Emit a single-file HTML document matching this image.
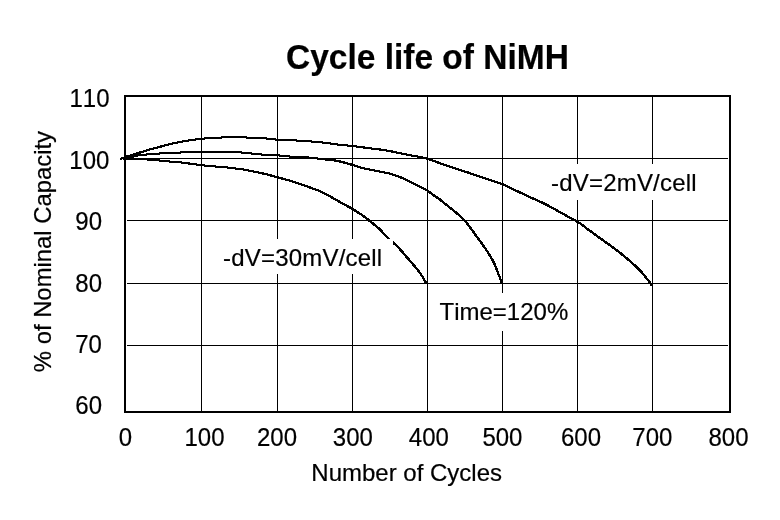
<!DOCTYPE html>
<html><head><meta charset="utf-8"><title>Cycle life of NiMH</title>
<style>
html,body{margin:0;padding:0;background:#fff;}
svg{display:block;font-family:"Liberation Sans",Arial,sans-serif;font-size:24px;fill:#000;font-kerning:none;}
text{stroke:#000;stroke-width:0.2px;}
.c{fill:none;stroke:#000;stroke-width:1;stroke-linejoin:round;stroke-linecap:butt;}
</style></head><body>
<svg width="780" height="520" viewBox="0 0 780 520">
<rect width="780" height="520" fill="#fff"/>
<g shape-rendering="crispEdges"><rect x="201" y="97" width="1" height="314"/><rect x="277" y="97" width="1" height="314"/><rect x="352" y="97" width="1" height="314"/><rect x="427" y="97" width="1" height="314"/><rect x="502" y="97" width="1" height="314"/><rect x="577" y="97" width="1" height="314"/><rect x="652" y="97" width="1" height="314"/><rect x="127" y="158" width="601" height="1"/><rect x="127" y="220" width="601" height="1"/><rect x="127" y="283" width="601" height="1"/><rect x="127" y="345" width="601" height="1"/></g>
<g class="c" shape-rendering="crispEdges">
<g transform="translate(-0.5,-0.5)"><polyline points="120.3,159.20 122.3,158.30 124.3,157.46 126.3,156.74 128.3,156.09 130.3,155.49 132.3,154.90 134.3,154.32 136.3,153.71 138.3,153.07 140.3,152.42 142.3,151.77 144.3,151.13 146.3,150.51 148.3,149.91 150.3,149.35 152.3,148.82 154.3,148.29 156.3,147.77 158.3,147.25 160.3,146.72 162.3,146.16 164.3,145.59 166.3,145.02 168.3,144.47 170.3,143.96 172.3,143.51 174.3,143.09 176.3,142.69 178.3,142.31 180.3,141.95 182.3,141.58 184.3,141.23 186.3,140.88 188.3,140.55 190.3,140.23 192.3,139.93 194.3,139.66 196.3,139.41 198.3,139.19 200.3,138.97 202.3,138.76 204.3,138.54 206.3,138.34 208.3,138.14 210.3,137.98 212.3,137.81 214.3,137.67 216.3,137.59 218.3,137.55 220.3,137.52 222.3,137.49 224.3,137.46 226.3,137.44 228.3,137.43 230.3,137.41 232.3,137.40 234.3,137.40 236.3,137.40 238.3,137.41 240.3,137.43 242.3,137.45 244.3,137.48 246.3,137.51 248.3,137.55 250.3,137.59 252.3,137.64 254.3,137.69 256.3,137.75 258.3,137.81 260.3,137.91 262.3,138.07 264.3,138.26 266.3,138.49 268.3,138.72 270.3,138.96 272.3,139.19 274.3,139.39 276.3,139.55 278.3,139.67 280.3,139.78 282.3,139.87 284.3,139.95 286.3,140.02 288.3,140.10 290.3,140.18 292.3,140.27 294.3,140.36 296.3,140.47 298.3,140.59 300.3,140.70 302.3,140.83 304.3,140.96 306.3,141.09 308.3,141.23 310.3,141.38 312.3,141.54 314.3,141.70 316.3,141.87 318.3,142.04 320.3,142.23 322.3,142.44 324.3,142.68 326.3,142.94 328.3,143.21 330.3,143.50 332.3,143.79 334.3,144.07 336.3,144.34 338.3,144.60 340.3,144.83 342.3,145.04 344.3,145.24 346.3,145.43 348.3,145.62 350.3,145.82 352.3,146.03 354.3,146.27 356.3,146.51 358.3,146.76 360.3,147.02 362.3,147.29 364.3,147.55 366.3,147.82 368.3,148.08 370.3,148.34 372.3,148.58 374.3,148.82 376.3,149.06 378.3,149.29 380.3,149.54 382.3,149.81 384.3,150.09 386.3,150.41 388.3,150.77 390.3,151.16 392.3,151.58 394.3,152.01 396.3,152.44 398.3,152.86 400.3,153.26 402.3,153.65 404.3,154.03 406.3,154.41 408.3,154.79 410.3,155.18 412.3,155.57 414.3,155.96 416.3,156.36 418.3,156.74 420.3,157.12 422.3,157.52 424.3,157.95 426.3,158.42 428.3,158.96 430.3,159.60 432.3,160.31 434.3,161.06 436.3,161.82 438.3,162.58 440.3,163.31 442.3,164.01 444.3,164.72 446.3,165.43 448.3,166.12 450.3,166.80 452.3,167.45 454.3,168.09 456.3,168.72 458.3,169.35 460.3,170.00 462.3,170.65 464.3,171.31 466.3,171.97 468.3,172.63 470.3,173.30 472.3,173.98 474.3,174.65 476.3,175.34 478.3,176.02 480.3,176.70 482.3,177.38 484.3,178.07 486.3,178.75 488.3,179.43 490.3,180.10 492.3,180.75 494.3,181.38 496.3,182.01 498.3,182.67 500.3,183.36 502.3,184.12 504.3,184.98 506.3,185.91 508.3,186.88 510.3,187.84 512.3,188.79 514.3,189.76 516.3,190.72 518.3,191.69 520.3,192.64 522.3,193.59 524.3,194.54 526.3,195.49 528.3,196.42 530.3,197.34 532.3,198.22 534.3,199.08 536.3,199.94 538.3,200.82 540.3,201.74 542.3,202.69 544.3,203.68 546.3,204.68 548.3,205.71 550.3,206.76 552.3,207.85 554.3,208.97 556.3,210.11 558.3,211.25 560.3,212.37 562.3,213.48 564.3,214.58 566.3,215.69 568.3,216.78 570.3,217.86 572.3,218.89 574.3,219.90 576.3,220.99 578.3,222.22 580.3,223.58 582.3,225.04 584.3,226.57 586.3,228.11 588.3,229.64 590.3,231.12 592.3,232.56 594.3,234.00 596.3,235.44 598.3,236.88 600.3,238.32 602.3,239.75 604.3,241.18 606.3,242.61 608.3,244.06 610.3,245.52 612.3,246.99 614.3,248.46 616.3,249.95 618.3,251.47 620.3,253.04 622.3,254.65 624.3,256.30 626.3,257.99 628.3,259.71 630.3,261.46 632.3,263.23 634.3,265.01 636.3,266.85 638.3,268.77 640.3,270.82 642.3,273.05 644.3,275.44 646.3,277.93 648.3,280.54 650.3,283.20 652.0,285.50"/><polyline points="123.0,158.40 125.0,158.08 127.0,157.74 129.0,157.38 131.0,157.00 133.0,156.57 135.0,156.10 137.0,155.65 139.0,155.30 141.0,155.05 143.0,154.84 145.0,154.66 147.0,154.49 149.0,154.31 151.0,154.15 153.0,153.99 155.0,153.84 157.0,153.70 159.0,153.56 161.0,153.44 163.0,153.32 165.0,153.20 167.0,153.09 169.0,152.99 171.0,152.90 173.0,152.81 175.0,152.73 177.0,152.65 179.0,152.57 181.0,152.49 183.0,152.41 185.0,152.35 187.0,152.28 189.0,152.22 191.0,152.17 193.0,152.12 195.0,152.08 197.0,152.04 199.0,152.00 201.0,151.96 203.0,151.92 205.0,151.89 207.0,151.86 209.0,151.83 211.0,151.82 213.0,151.80 215.0,151.80 217.0,151.80 219.0,151.82 221.0,151.83 223.0,151.86 225.0,151.89 227.0,151.93 229.0,151.98 231.0,152.03 233.0,152.08 235.0,152.14 237.0,152.20 239.0,152.30 241.0,152.45 243.0,152.64 245.0,152.85 247.0,153.08 249.0,153.30 251.0,153.50 253.0,153.69 255.0,153.90 257.0,154.11 259.0,154.31 261.0,154.50 263.0,154.67 265.0,154.80 267.0,154.90 269.0,154.98 271.0,155.05 273.0,155.12 275.0,155.20 277.0,155.30 279.0,155.44 281.0,155.61 283.0,155.81 285.0,156.00 287.0,156.20 289.0,156.43 291.0,156.65 293.0,156.85 295.0,157.00 297.0,157.10 299.0,157.18 301.0,157.25 303.0,157.31 305.0,157.37 307.0,157.44 309.0,157.54 311.0,157.68 313.0,157.90 315.0,158.18 317.0,158.49 319.0,158.77 321.0,159.01 323.0,159.22 325.0,159.41 327.0,159.60 329.0,159.79 331.0,160.00 333.0,160.23 335.0,160.50 337.0,160.85 339.0,161.27 341.0,161.73 343.0,162.23 345.0,162.77 347.0,163.33 349.0,163.92 351.0,164.51 353.0,165.10 355.0,165.75 357.0,166.40 359.0,167.02 361.0,167.56 363.0,168.05 365.0,168.52 367.0,168.96 369.0,169.39 371.0,169.81 373.0,170.22 375.0,170.61 377.0,171.00 379.0,171.40 381.0,171.80 383.0,172.19 385.0,172.58 387.0,172.99 389.0,173.45 391.0,173.97 393.0,174.57 395.0,175.24 397.0,175.95 399.0,176.71 401.0,177.50 403.0,178.37 405.0,179.29 407.0,180.25 409.0,181.22 411.0,182.18 413.0,183.16 415.0,184.16 417.0,185.17 419.0,186.19 421.0,187.21 423.0,188.21 425.0,189.25 427.0,190.40 429.0,191.73 431.0,193.21 433.0,194.73 435.0,196.20 437.0,197.54 439.0,198.88 441.0,200.37 443.0,202.03 445.0,203.70 447.0,205.31 449.0,206.90 451.0,208.50 453.0,210.08 455.0,211.70 457.0,213.37 459.0,215.09 461.0,216.93 463.0,218.88 465.0,221.00 467.0,223.39 469.0,225.98 471.0,228.64 473.0,231.41 475.0,234.20 477.0,236.96 479.0,239.72 481.0,242.47 483.0,245.18 485.0,248.00 487.0,250.99 489.0,254.14 491.0,257.48 493.0,260.98 495.0,265.00 497.0,270.27 499.0,275.49 501.0,280.69 502.0,283.50"/><polyline points="123.0,158.50 125.0,158.53 127.0,158.56 129.0,158.61 131.0,158.67 133.0,158.73 135.0,158.82 137.0,158.92 139.0,159.03 141.0,159.14 143.0,159.26 145.0,159.37 147.0,159.49 149.0,159.62 151.0,159.76 153.0,159.90 155.0,160.06 157.0,160.23 159.0,160.42 161.0,160.61 163.0,160.80 165.0,161.00 167.0,161.20 169.0,161.41 171.0,161.61 173.0,161.80 175.0,161.97 177.0,162.13 179.0,162.30 181.0,162.50 183.0,162.73 185.0,162.97 187.0,163.24 189.0,163.51 191.0,163.79 193.0,164.07 195.0,164.35 197.0,164.61 199.0,164.87 201.0,165.10 203.0,165.32 205.0,165.53 207.0,165.73 209.0,165.93 211.0,166.12 213.0,166.30 215.0,166.47 217.0,166.63 219.0,166.79 221.0,166.95 223.0,167.12 225.0,167.30 227.0,167.50 229.0,167.71 231.0,167.93 233.0,168.16 235.0,168.40 237.0,168.66 239.0,168.92 241.0,169.20 243.0,169.50 245.0,169.82 247.0,170.18 249.0,170.56 251.0,170.96 253.0,171.37 255.0,171.79 257.0,172.21 259.0,172.63 261.0,173.07 263.0,173.51 265.0,173.97 267.0,174.45 269.0,174.96 271.0,175.50 273.0,176.07 275.0,176.64 277.0,177.20 279.0,177.74 281.0,178.26 283.0,178.78 285.0,179.30 287.0,179.84 289.0,180.41 291.0,181.00 293.0,181.64 295.0,182.30 297.0,182.98 299.0,183.66 301.0,184.34 303.0,185.03 305.0,185.72 307.0,186.43 309.0,187.14 311.0,187.86 313.0,188.56 315.0,189.26 317.0,189.99 319.0,190.78 321.0,191.65 323.0,192.62 325.0,193.66 327.0,194.75 329.0,195.85 331.0,196.95 333.0,198.08 335.0,199.23 337.0,200.39 339.0,201.54 341.0,202.66 343.0,203.75 345.0,204.82 347.0,205.90 349.0,206.99 351.0,208.12 353.0,209.29 355.0,210.51 357.0,211.77 359.0,213.05 361.0,214.35 363.0,215.68 365.0,217.10 367.0,218.69 369.0,220.37 371.0,222.00 373.0,223.58 375.0,225.20 377.0,226.85 379.0,228.57 381.0,230.53 383.0,232.79 385.0,235.00 387.0,236.99 389.0,238.88 391.0,240.67 393.0,242.40 395.0,244.26 397.0,246.21 399.0,248.24 401.0,250.40 403.0,252.74 405.0,255.10 407.0,257.38 409.0,259.66 411.0,261.94 413.0,264.23 415.0,266.60 417.0,269.05 419.0,271.63 421.0,274.46 423.0,277.60 425.0,281.00 426.0,283.00"/></g>
<g transform="translate(0.5,-0.5)"><polyline points="120.3,159.20 122.3,158.30 124.3,157.46 126.3,156.74 128.3,156.09 130.3,155.49 132.3,154.90 134.3,154.32 136.3,153.71 138.3,153.07 140.3,152.42 142.3,151.77 144.3,151.13 146.3,150.51 148.3,149.91 150.3,149.35 152.3,148.82 154.3,148.29 156.3,147.77 158.3,147.25 160.3,146.72 162.3,146.16 164.3,145.59 166.3,145.02 168.3,144.47 170.3,143.96 172.3,143.51 174.3,143.09 176.3,142.69 178.3,142.31 180.3,141.95 182.3,141.58 184.3,141.23 186.3,140.88 188.3,140.55 190.3,140.23 192.3,139.93 194.3,139.66 196.3,139.41 198.3,139.19 200.3,138.97 202.3,138.76 204.3,138.54 206.3,138.34 208.3,138.14 210.3,137.98 212.3,137.81 214.3,137.67 216.3,137.59 218.3,137.55 220.3,137.52 222.3,137.49 224.3,137.46 226.3,137.44 228.3,137.43 230.3,137.41 232.3,137.40 234.3,137.40 236.3,137.40 238.3,137.41 240.3,137.43 242.3,137.45 244.3,137.48 246.3,137.51 248.3,137.55 250.3,137.59 252.3,137.64 254.3,137.69 256.3,137.75 258.3,137.81 260.3,137.91 262.3,138.07 264.3,138.26 266.3,138.49 268.3,138.72 270.3,138.96 272.3,139.19 274.3,139.39 276.3,139.55 278.3,139.67 280.3,139.78 282.3,139.87 284.3,139.95 286.3,140.02 288.3,140.10 290.3,140.18 292.3,140.27 294.3,140.36 296.3,140.47 298.3,140.59 300.3,140.70 302.3,140.83 304.3,140.96 306.3,141.09 308.3,141.23 310.3,141.38 312.3,141.54 314.3,141.70 316.3,141.87 318.3,142.04 320.3,142.23 322.3,142.44 324.3,142.68 326.3,142.94 328.3,143.21 330.3,143.50 332.3,143.79 334.3,144.07 336.3,144.34 338.3,144.60 340.3,144.83 342.3,145.04 344.3,145.24 346.3,145.43 348.3,145.62 350.3,145.82 352.3,146.03 354.3,146.27 356.3,146.51 358.3,146.76 360.3,147.02 362.3,147.29 364.3,147.55 366.3,147.82 368.3,148.08 370.3,148.34 372.3,148.58 374.3,148.82 376.3,149.06 378.3,149.29 380.3,149.54 382.3,149.81 384.3,150.09 386.3,150.41 388.3,150.77 390.3,151.16 392.3,151.58 394.3,152.01 396.3,152.44 398.3,152.86 400.3,153.26 402.3,153.65 404.3,154.03 406.3,154.41 408.3,154.79 410.3,155.18 412.3,155.57 414.3,155.96 416.3,156.36 418.3,156.74 420.3,157.12 422.3,157.52 424.3,157.95 426.3,158.42 428.3,158.96 430.3,159.60 432.3,160.31 434.3,161.06 436.3,161.82 438.3,162.58 440.3,163.31 442.3,164.01 444.3,164.72 446.3,165.43 448.3,166.12 450.3,166.80 452.3,167.45 454.3,168.09 456.3,168.72 458.3,169.35 460.3,170.00 462.3,170.65 464.3,171.31 466.3,171.97 468.3,172.63 470.3,173.30 472.3,173.98 474.3,174.65 476.3,175.34 478.3,176.02 480.3,176.70 482.3,177.38 484.3,178.07 486.3,178.75 488.3,179.43 490.3,180.10 492.3,180.75 494.3,181.38 496.3,182.01 498.3,182.67 500.3,183.36 502.3,184.12 504.3,184.98 506.3,185.91 508.3,186.88 510.3,187.84 512.3,188.79 514.3,189.76 516.3,190.72 518.3,191.69 520.3,192.64 522.3,193.59 524.3,194.54 526.3,195.49 528.3,196.42 530.3,197.34 532.3,198.22 534.3,199.08 536.3,199.94 538.3,200.82 540.3,201.74 542.3,202.69 544.3,203.68 546.3,204.68 548.3,205.71 550.3,206.76 552.3,207.85 554.3,208.97 556.3,210.11 558.3,211.25 560.3,212.37 562.3,213.48 564.3,214.58 566.3,215.69 568.3,216.78 570.3,217.86 572.3,218.89 574.3,219.90 576.3,220.99 578.3,222.22 580.3,223.58 582.3,225.04 584.3,226.57 586.3,228.11 588.3,229.64 590.3,231.12 592.3,232.56 594.3,234.00 596.3,235.44 598.3,236.88 600.3,238.32 602.3,239.75 604.3,241.18 606.3,242.61 608.3,244.06 610.3,245.52 612.3,246.99 614.3,248.46 616.3,249.95 618.3,251.47 620.3,253.04 622.3,254.65 624.3,256.30 626.3,257.99 628.3,259.71 630.3,261.46 632.3,263.23 634.3,265.01 636.3,266.85 638.3,268.77 640.3,270.82 642.3,273.05 644.3,275.44 646.3,277.93 648.3,280.54 650.3,283.20 652.0,285.50"/><polyline points="123.0,158.40 125.0,158.08 127.0,157.74 129.0,157.38 131.0,157.00 133.0,156.57 135.0,156.10 137.0,155.65 139.0,155.30 141.0,155.05 143.0,154.84 145.0,154.66 147.0,154.49 149.0,154.31 151.0,154.15 153.0,153.99 155.0,153.84 157.0,153.70 159.0,153.56 161.0,153.44 163.0,153.32 165.0,153.20 167.0,153.09 169.0,152.99 171.0,152.90 173.0,152.81 175.0,152.73 177.0,152.65 179.0,152.57 181.0,152.49 183.0,152.41 185.0,152.35 187.0,152.28 189.0,152.22 191.0,152.17 193.0,152.12 195.0,152.08 197.0,152.04 199.0,152.00 201.0,151.96 203.0,151.92 205.0,151.89 207.0,151.86 209.0,151.83 211.0,151.82 213.0,151.80 215.0,151.80 217.0,151.80 219.0,151.82 221.0,151.83 223.0,151.86 225.0,151.89 227.0,151.93 229.0,151.98 231.0,152.03 233.0,152.08 235.0,152.14 237.0,152.20 239.0,152.30 241.0,152.45 243.0,152.64 245.0,152.85 247.0,153.08 249.0,153.30 251.0,153.50 253.0,153.69 255.0,153.90 257.0,154.11 259.0,154.31 261.0,154.50 263.0,154.67 265.0,154.80 267.0,154.90 269.0,154.98 271.0,155.05 273.0,155.12 275.0,155.20 277.0,155.30 279.0,155.44 281.0,155.61 283.0,155.81 285.0,156.00 287.0,156.20 289.0,156.43 291.0,156.65 293.0,156.85 295.0,157.00 297.0,157.10 299.0,157.18 301.0,157.25 303.0,157.31 305.0,157.37 307.0,157.44 309.0,157.54 311.0,157.68 313.0,157.90 315.0,158.18 317.0,158.49 319.0,158.77 321.0,159.01 323.0,159.22 325.0,159.41 327.0,159.60 329.0,159.79 331.0,160.00 333.0,160.23 335.0,160.50 337.0,160.85 339.0,161.27 341.0,161.73 343.0,162.23 345.0,162.77 347.0,163.33 349.0,163.92 351.0,164.51 353.0,165.10 355.0,165.75 357.0,166.40 359.0,167.02 361.0,167.56 363.0,168.05 365.0,168.52 367.0,168.96 369.0,169.39 371.0,169.81 373.0,170.22 375.0,170.61 377.0,171.00 379.0,171.40 381.0,171.80 383.0,172.19 385.0,172.58 387.0,172.99 389.0,173.45 391.0,173.97 393.0,174.57 395.0,175.24 397.0,175.95 399.0,176.71 401.0,177.50 403.0,178.37 405.0,179.29 407.0,180.25 409.0,181.22 411.0,182.18 413.0,183.16 415.0,184.16 417.0,185.17 419.0,186.19 421.0,187.21 423.0,188.21 425.0,189.25 427.0,190.40 429.0,191.73 431.0,193.21 433.0,194.73 435.0,196.20 437.0,197.54 439.0,198.88 441.0,200.37 443.0,202.03 445.0,203.70 447.0,205.31 449.0,206.90 451.0,208.50 453.0,210.08 455.0,211.70 457.0,213.37 459.0,215.09 461.0,216.93 463.0,218.88 465.0,221.00 467.0,223.39 469.0,225.98 471.0,228.64 473.0,231.41 475.0,234.20 477.0,236.96 479.0,239.72 481.0,242.47 483.0,245.18 485.0,248.00 487.0,250.99 489.0,254.14 491.0,257.48 493.0,260.98 495.0,265.00 497.0,270.27 499.0,275.49 501.0,280.69 502.0,283.50"/><polyline points="123.0,158.50 125.0,158.53 127.0,158.56 129.0,158.61 131.0,158.67 133.0,158.73 135.0,158.82 137.0,158.92 139.0,159.03 141.0,159.14 143.0,159.26 145.0,159.37 147.0,159.49 149.0,159.62 151.0,159.76 153.0,159.90 155.0,160.06 157.0,160.23 159.0,160.42 161.0,160.61 163.0,160.80 165.0,161.00 167.0,161.20 169.0,161.41 171.0,161.61 173.0,161.80 175.0,161.97 177.0,162.13 179.0,162.30 181.0,162.50 183.0,162.73 185.0,162.97 187.0,163.24 189.0,163.51 191.0,163.79 193.0,164.07 195.0,164.35 197.0,164.61 199.0,164.87 201.0,165.10 203.0,165.32 205.0,165.53 207.0,165.73 209.0,165.93 211.0,166.12 213.0,166.30 215.0,166.47 217.0,166.63 219.0,166.79 221.0,166.95 223.0,167.12 225.0,167.30 227.0,167.50 229.0,167.71 231.0,167.93 233.0,168.16 235.0,168.40 237.0,168.66 239.0,168.92 241.0,169.20 243.0,169.50 245.0,169.82 247.0,170.18 249.0,170.56 251.0,170.96 253.0,171.37 255.0,171.79 257.0,172.21 259.0,172.63 261.0,173.07 263.0,173.51 265.0,173.97 267.0,174.45 269.0,174.96 271.0,175.50 273.0,176.07 275.0,176.64 277.0,177.20 279.0,177.74 281.0,178.26 283.0,178.78 285.0,179.30 287.0,179.84 289.0,180.41 291.0,181.00 293.0,181.64 295.0,182.30 297.0,182.98 299.0,183.66 301.0,184.34 303.0,185.03 305.0,185.72 307.0,186.43 309.0,187.14 311.0,187.86 313.0,188.56 315.0,189.26 317.0,189.99 319.0,190.78 321.0,191.65 323.0,192.62 325.0,193.66 327.0,194.75 329.0,195.85 331.0,196.95 333.0,198.08 335.0,199.23 337.0,200.39 339.0,201.54 341.0,202.66 343.0,203.75 345.0,204.82 347.0,205.90 349.0,206.99 351.0,208.12 353.0,209.29 355.0,210.51 357.0,211.77 359.0,213.05 361.0,214.35 363.0,215.68 365.0,217.10 367.0,218.69 369.0,220.37 371.0,222.00 373.0,223.58 375.0,225.20 377.0,226.85 379.0,228.57 381.0,230.53 383.0,232.79 385.0,235.00 387.0,236.99 389.0,238.88 391.0,240.67 393.0,242.40 395.0,244.26 397.0,246.21 399.0,248.24 401.0,250.40 403.0,252.74 405.0,255.10 407.0,257.38 409.0,259.66 411.0,261.94 413.0,264.23 415.0,266.60 417.0,269.05 419.0,271.63 421.0,274.46 423.0,277.60 425.0,281.00 426.0,283.00"/></g>
<g transform="translate(-0.5,0.5)"><polyline points="120.3,159.20 122.3,158.30 124.3,157.46 126.3,156.74 128.3,156.09 130.3,155.49 132.3,154.90 134.3,154.32 136.3,153.71 138.3,153.07 140.3,152.42 142.3,151.77 144.3,151.13 146.3,150.51 148.3,149.91 150.3,149.35 152.3,148.82 154.3,148.29 156.3,147.77 158.3,147.25 160.3,146.72 162.3,146.16 164.3,145.59 166.3,145.02 168.3,144.47 170.3,143.96 172.3,143.51 174.3,143.09 176.3,142.69 178.3,142.31 180.3,141.95 182.3,141.58 184.3,141.23 186.3,140.88 188.3,140.55 190.3,140.23 192.3,139.93 194.3,139.66 196.3,139.41 198.3,139.19 200.3,138.97 202.3,138.76 204.3,138.54 206.3,138.34 208.3,138.14 210.3,137.98 212.3,137.81 214.3,137.67 216.3,137.59 218.3,137.55 220.3,137.52 222.3,137.49 224.3,137.46 226.3,137.44 228.3,137.43 230.3,137.41 232.3,137.40 234.3,137.40 236.3,137.40 238.3,137.41 240.3,137.43 242.3,137.45 244.3,137.48 246.3,137.51 248.3,137.55 250.3,137.59 252.3,137.64 254.3,137.69 256.3,137.75 258.3,137.81 260.3,137.91 262.3,138.07 264.3,138.26 266.3,138.49 268.3,138.72 270.3,138.96 272.3,139.19 274.3,139.39 276.3,139.55 278.3,139.67 280.3,139.78 282.3,139.87 284.3,139.95 286.3,140.02 288.3,140.10 290.3,140.18 292.3,140.27 294.3,140.36 296.3,140.47 298.3,140.59 300.3,140.70 302.3,140.83 304.3,140.96 306.3,141.09 308.3,141.23 310.3,141.38 312.3,141.54 314.3,141.70 316.3,141.87 318.3,142.04 320.3,142.23 322.3,142.44 324.3,142.68 326.3,142.94 328.3,143.21 330.3,143.50 332.3,143.79 334.3,144.07 336.3,144.34 338.3,144.60 340.3,144.83 342.3,145.04 344.3,145.24 346.3,145.43 348.3,145.62 350.3,145.82 352.3,146.03 354.3,146.27 356.3,146.51 358.3,146.76 360.3,147.02 362.3,147.29 364.3,147.55 366.3,147.82 368.3,148.08 370.3,148.34 372.3,148.58 374.3,148.82 376.3,149.06 378.3,149.29 380.3,149.54 382.3,149.81 384.3,150.09 386.3,150.41 388.3,150.77 390.3,151.16 392.3,151.58 394.3,152.01 396.3,152.44 398.3,152.86 400.3,153.26 402.3,153.65 404.3,154.03 406.3,154.41 408.3,154.79 410.3,155.18 412.3,155.57 414.3,155.96 416.3,156.36 418.3,156.74 420.3,157.12 422.3,157.52 424.3,157.95 426.3,158.42 428.3,158.96 430.3,159.60 432.3,160.31 434.3,161.06 436.3,161.82 438.3,162.58 440.3,163.31 442.3,164.01 444.3,164.72 446.3,165.43 448.3,166.12 450.3,166.80 452.3,167.45 454.3,168.09 456.3,168.72 458.3,169.35 460.3,170.00 462.3,170.65 464.3,171.31 466.3,171.97 468.3,172.63 470.3,173.30 472.3,173.98 474.3,174.65 476.3,175.34 478.3,176.02 480.3,176.70 482.3,177.38 484.3,178.07 486.3,178.75 488.3,179.43 490.3,180.10 492.3,180.75 494.3,181.38 496.3,182.01 498.3,182.67 500.3,183.36 502.3,184.12 504.3,184.98 506.3,185.91 508.3,186.88 510.3,187.84 512.3,188.79 514.3,189.76 516.3,190.72 518.3,191.69 520.3,192.64 522.3,193.59 524.3,194.54 526.3,195.49 528.3,196.42 530.3,197.34 532.3,198.22 534.3,199.08 536.3,199.94 538.3,200.82 540.3,201.74 542.3,202.69 544.3,203.68 546.3,204.68 548.3,205.71 550.3,206.76 552.3,207.85 554.3,208.97 556.3,210.11 558.3,211.25 560.3,212.37 562.3,213.48 564.3,214.58 566.3,215.69 568.3,216.78 570.3,217.86 572.3,218.89 574.3,219.90 576.3,220.99 578.3,222.22 580.3,223.58 582.3,225.04 584.3,226.57 586.3,228.11 588.3,229.64 590.3,231.12 592.3,232.56 594.3,234.00 596.3,235.44 598.3,236.88 600.3,238.32 602.3,239.75 604.3,241.18 606.3,242.61 608.3,244.06 610.3,245.52 612.3,246.99 614.3,248.46 616.3,249.95 618.3,251.47 620.3,253.04 622.3,254.65 624.3,256.30 626.3,257.99 628.3,259.71 630.3,261.46 632.3,263.23 634.3,265.01 636.3,266.85 638.3,268.77 640.3,270.82 642.3,273.05 644.3,275.44 646.3,277.93 648.3,280.54 650.3,283.20 652.0,285.50"/><polyline points="123.0,158.40 125.0,158.08 127.0,157.74 129.0,157.38 131.0,157.00 133.0,156.57 135.0,156.10 137.0,155.65 139.0,155.30 141.0,155.05 143.0,154.84 145.0,154.66 147.0,154.49 149.0,154.31 151.0,154.15 153.0,153.99 155.0,153.84 157.0,153.70 159.0,153.56 161.0,153.44 163.0,153.32 165.0,153.20 167.0,153.09 169.0,152.99 171.0,152.90 173.0,152.81 175.0,152.73 177.0,152.65 179.0,152.57 181.0,152.49 183.0,152.41 185.0,152.35 187.0,152.28 189.0,152.22 191.0,152.17 193.0,152.12 195.0,152.08 197.0,152.04 199.0,152.00 201.0,151.96 203.0,151.92 205.0,151.89 207.0,151.86 209.0,151.83 211.0,151.82 213.0,151.80 215.0,151.80 217.0,151.80 219.0,151.82 221.0,151.83 223.0,151.86 225.0,151.89 227.0,151.93 229.0,151.98 231.0,152.03 233.0,152.08 235.0,152.14 237.0,152.20 239.0,152.30 241.0,152.45 243.0,152.64 245.0,152.85 247.0,153.08 249.0,153.30 251.0,153.50 253.0,153.69 255.0,153.90 257.0,154.11 259.0,154.31 261.0,154.50 263.0,154.67 265.0,154.80 267.0,154.90 269.0,154.98 271.0,155.05 273.0,155.12 275.0,155.20 277.0,155.30 279.0,155.44 281.0,155.61 283.0,155.81 285.0,156.00 287.0,156.20 289.0,156.43 291.0,156.65 293.0,156.85 295.0,157.00 297.0,157.10 299.0,157.18 301.0,157.25 303.0,157.31 305.0,157.37 307.0,157.44 309.0,157.54 311.0,157.68 313.0,157.90 315.0,158.18 317.0,158.49 319.0,158.77 321.0,159.01 323.0,159.22 325.0,159.41 327.0,159.60 329.0,159.79 331.0,160.00 333.0,160.23 335.0,160.50 337.0,160.85 339.0,161.27 341.0,161.73 343.0,162.23 345.0,162.77 347.0,163.33 349.0,163.92 351.0,164.51 353.0,165.10 355.0,165.75 357.0,166.40 359.0,167.02 361.0,167.56 363.0,168.05 365.0,168.52 367.0,168.96 369.0,169.39 371.0,169.81 373.0,170.22 375.0,170.61 377.0,171.00 379.0,171.40 381.0,171.80 383.0,172.19 385.0,172.58 387.0,172.99 389.0,173.45 391.0,173.97 393.0,174.57 395.0,175.24 397.0,175.95 399.0,176.71 401.0,177.50 403.0,178.37 405.0,179.29 407.0,180.25 409.0,181.22 411.0,182.18 413.0,183.16 415.0,184.16 417.0,185.17 419.0,186.19 421.0,187.21 423.0,188.21 425.0,189.25 427.0,190.40 429.0,191.73 431.0,193.21 433.0,194.73 435.0,196.20 437.0,197.54 439.0,198.88 441.0,200.37 443.0,202.03 445.0,203.70 447.0,205.31 449.0,206.90 451.0,208.50 453.0,210.08 455.0,211.70 457.0,213.37 459.0,215.09 461.0,216.93 463.0,218.88 465.0,221.00 467.0,223.39 469.0,225.98 471.0,228.64 473.0,231.41 475.0,234.20 477.0,236.96 479.0,239.72 481.0,242.47 483.0,245.18 485.0,248.00 487.0,250.99 489.0,254.14 491.0,257.48 493.0,260.98 495.0,265.00 497.0,270.27 499.0,275.49 501.0,280.69 502.0,283.50"/><polyline points="123.0,158.50 125.0,158.53 127.0,158.56 129.0,158.61 131.0,158.67 133.0,158.73 135.0,158.82 137.0,158.92 139.0,159.03 141.0,159.14 143.0,159.26 145.0,159.37 147.0,159.49 149.0,159.62 151.0,159.76 153.0,159.90 155.0,160.06 157.0,160.23 159.0,160.42 161.0,160.61 163.0,160.80 165.0,161.00 167.0,161.20 169.0,161.41 171.0,161.61 173.0,161.80 175.0,161.97 177.0,162.13 179.0,162.30 181.0,162.50 183.0,162.73 185.0,162.97 187.0,163.24 189.0,163.51 191.0,163.79 193.0,164.07 195.0,164.35 197.0,164.61 199.0,164.87 201.0,165.10 203.0,165.32 205.0,165.53 207.0,165.73 209.0,165.93 211.0,166.12 213.0,166.30 215.0,166.47 217.0,166.63 219.0,166.79 221.0,166.95 223.0,167.12 225.0,167.30 227.0,167.50 229.0,167.71 231.0,167.93 233.0,168.16 235.0,168.40 237.0,168.66 239.0,168.92 241.0,169.20 243.0,169.50 245.0,169.82 247.0,170.18 249.0,170.56 251.0,170.96 253.0,171.37 255.0,171.79 257.0,172.21 259.0,172.63 261.0,173.07 263.0,173.51 265.0,173.97 267.0,174.45 269.0,174.96 271.0,175.50 273.0,176.07 275.0,176.64 277.0,177.20 279.0,177.74 281.0,178.26 283.0,178.78 285.0,179.30 287.0,179.84 289.0,180.41 291.0,181.00 293.0,181.64 295.0,182.30 297.0,182.98 299.0,183.66 301.0,184.34 303.0,185.03 305.0,185.72 307.0,186.43 309.0,187.14 311.0,187.86 313.0,188.56 315.0,189.26 317.0,189.99 319.0,190.78 321.0,191.65 323.0,192.62 325.0,193.66 327.0,194.75 329.0,195.85 331.0,196.95 333.0,198.08 335.0,199.23 337.0,200.39 339.0,201.54 341.0,202.66 343.0,203.75 345.0,204.82 347.0,205.90 349.0,206.99 351.0,208.12 353.0,209.29 355.0,210.51 357.0,211.77 359.0,213.05 361.0,214.35 363.0,215.68 365.0,217.10 367.0,218.69 369.0,220.37 371.0,222.00 373.0,223.58 375.0,225.20 377.0,226.85 379.0,228.57 381.0,230.53 383.0,232.79 385.0,235.00 387.0,236.99 389.0,238.88 391.0,240.67 393.0,242.40 395.0,244.26 397.0,246.21 399.0,248.24 401.0,250.40 403.0,252.74 405.0,255.10 407.0,257.38 409.0,259.66 411.0,261.94 413.0,264.23 415.0,266.60 417.0,269.05 419.0,271.63 421.0,274.46 423.0,277.60 425.0,281.00 426.0,283.00"/></g>
<g transform="translate(0.5,0.5)"><polyline points="120.3,159.20 122.3,158.30 124.3,157.46 126.3,156.74 128.3,156.09 130.3,155.49 132.3,154.90 134.3,154.32 136.3,153.71 138.3,153.07 140.3,152.42 142.3,151.77 144.3,151.13 146.3,150.51 148.3,149.91 150.3,149.35 152.3,148.82 154.3,148.29 156.3,147.77 158.3,147.25 160.3,146.72 162.3,146.16 164.3,145.59 166.3,145.02 168.3,144.47 170.3,143.96 172.3,143.51 174.3,143.09 176.3,142.69 178.3,142.31 180.3,141.95 182.3,141.58 184.3,141.23 186.3,140.88 188.3,140.55 190.3,140.23 192.3,139.93 194.3,139.66 196.3,139.41 198.3,139.19 200.3,138.97 202.3,138.76 204.3,138.54 206.3,138.34 208.3,138.14 210.3,137.98 212.3,137.81 214.3,137.67 216.3,137.59 218.3,137.55 220.3,137.52 222.3,137.49 224.3,137.46 226.3,137.44 228.3,137.43 230.3,137.41 232.3,137.40 234.3,137.40 236.3,137.40 238.3,137.41 240.3,137.43 242.3,137.45 244.3,137.48 246.3,137.51 248.3,137.55 250.3,137.59 252.3,137.64 254.3,137.69 256.3,137.75 258.3,137.81 260.3,137.91 262.3,138.07 264.3,138.26 266.3,138.49 268.3,138.72 270.3,138.96 272.3,139.19 274.3,139.39 276.3,139.55 278.3,139.67 280.3,139.78 282.3,139.87 284.3,139.95 286.3,140.02 288.3,140.10 290.3,140.18 292.3,140.27 294.3,140.36 296.3,140.47 298.3,140.59 300.3,140.70 302.3,140.83 304.3,140.96 306.3,141.09 308.3,141.23 310.3,141.38 312.3,141.54 314.3,141.70 316.3,141.87 318.3,142.04 320.3,142.23 322.3,142.44 324.3,142.68 326.3,142.94 328.3,143.21 330.3,143.50 332.3,143.79 334.3,144.07 336.3,144.34 338.3,144.60 340.3,144.83 342.3,145.04 344.3,145.24 346.3,145.43 348.3,145.62 350.3,145.82 352.3,146.03 354.3,146.27 356.3,146.51 358.3,146.76 360.3,147.02 362.3,147.29 364.3,147.55 366.3,147.82 368.3,148.08 370.3,148.34 372.3,148.58 374.3,148.82 376.3,149.06 378.3,149.29 380.3,149.54 382.3,149.81 384.3,150.09 386.3,150.41 388.3,150.77 390.3,151.16 392.3,151.58 394.3,152.01 396.3,152.44 398.3,152.86 400.3,153.26 402.3,153.65 404.3,154.03 406.3,154.41 408.3,154.79 410.3,155.18 412.3,155.57 414.3,155.96 416.3,156.36 418.3,156.74 420.3,157.12 422.3,157.52 424.3,157.95 426.3,158.42 428.3,158.96 430.3,159.60 432.3,160.31 434.3,161.06 436.3,161.82 438.3,162.58 440.3,163.31 442.3,164.01 444.3,164.72 446.3,165.43 448.3,166.12 450.3,166.80 452.3,167.45 454.3,168.09 456.3,168.72 458.3,169.35 460.3,170.00 462.3,170.65 464.3,171.31 466.3,171.97 468.3,172.63 470.3,173.30 472.3,173.98 474.3,174.65 476.3,175.34 478.3,176.02 480.3,176.70 482.3,177.38 484.3,178.07 486.3,178.75 488.3,179.43 490.3,180.10 492.3,180.75 494.3,181.38 496.3,182.01 498.3,182.67 500.3,183.36 502.3,184.12 504.3,184.98 506.3,185.91 508.3,186.88 510.3,187.84 512.3,188.79 514.3,189.76 516.3,190.72 518.3,191.69 520.3,192.64 522.3,193.59 524.3,194.54 526.3,195.49 528.3,196.42 530.3,197.34 532.3,198.22 534.3,199.08 536.3,199.94 538.3,200.82 540.3,201.74 542.3,202.69 544.3,203.68 546.3,204.68 548.3,205.71 550.3,206.76 552.3,207.85 554.3,208.97 556.3,210.11 558.3,211.25 560.3,212.37 562.3,213.48 564.3,214.58 566.3,215.69 568.3,216.78 570.3,217.86 572.3,218.89 574.3,219.90 576.3,220.99 578.3,222.22 580.3,223.58 582.3,225.04 584.3,226.57 586.3,228.11 588.3,229.64 590.3,231.12 592.3,232.56 594.3,234.00 596.3,235.44 598.3,236.88 600.3,238.32 602.3,239.75 604.3,241.18 606.3,242.61 608.3,244.06 610.3,245.52 612.3,246.99 614.3,248.46 616.3,249.95 618.3,251.47 620.3,253.04 622.3,254.65 624.3,256.30 626.3,257.99 628.3,259.71 630.3,261.46 632.3,263.23 634.3,265.01 636.3,266.85 638.3,268.77 640.3,270.82 642.3,273.05 644.3,275.44 646.3,277.93 648.3,280.54 650.3,283.20 652.0,285.50"/><polyline points="123.0,158.40 125.0,158.08 127.0,157.74 129.0,157.38 131.0,157.00 133.0,156.57 135.0,156.10 137.0,155.65 139.0,155.30 141.0,155.05 143.0,154.84 145.0,154.66 147.0,154.49 149.0,154.31 151.0,154.15 153.0,153.99 155.0,153.84 157.0,153.70 159.0,153.56 161.0,153.44 163.0,153.32 165.0,153.20 167.0,153.09 169.0,152.99 171.0,152.90 173.0,152.81 175.0,152.73 177.0,152.65 179.0,152.57 181.0,152.49 183.0,152.41 185.0,152.35 187.0,152.28 189.0,152.22 191.0,152.17 193.0,152.12 195.0,152.08 197.0,152.04 199.0,152.00 201.0,151.96 203.0,151.92 205.0,151.89 207.0,151.86 209.0,151.83 211.0,151.82 213.0,151.80 215.0,151.80 217.0,151.80 219.0,151.82 221.0,151.83 223.0,151.86 225.0,151.89 227.0,151.93 229.0,151.98 231.0,152.03 233.0,152.08 235.0,152.14 237.0,152.20 239.0,152.30 241.0,152.45 243.0,152.64 245.0,152.85 247.0,153.08 249.0,153.30 251.0,153.50 253.0,153.69 255.0,153.90 257.0,154.11 259.0,154.31 261.0,154.50 263.0,154.67 265.0,154.80 267.0,154.90 269.0,154.98 271.0,155.05 273.0,155.12 275.0,155.20 277.0,155.30 279.0,155.44 281.0,155.61 283.0,155.81 285.0,156.00 287.0,156.20 289.0,156.43 291.0,156.65 293.0,156.85 295.0,157.00 297.0,157.10 299.0,157.18 301.0,157.25 303.0,157.31 305.0,157.37 307.0,157.44 309.0,157.54 311.0,157.68 313.0,157.90 315.0,158.18 317.0,158.49 319.0,158.77 321.0,159.01 323.0,159.22 325.0,159.41 327.0,159.60 329.0,159.79 331.0,160.00 333.0,160.23 335.0,160.50 337.0,160.85 339.0,161.27 341.0,161.73 343.0,162.23 345.0,162.77 347.0,163.33 349.0,163.92 351.0,164.51 353.0,165.10 355.0,165.75 357.0,166.40 359.0,167.02 361.0,167.56 363.0,168.05 365.0,168.52 367.0,168.96 369.0,169.39 371.0,169.81 373.0,170.22 375.0,170.61 377.0,171.00 379.0,171.40 381.0,171.80 383.0,172.19 385.0,172.58 387.0,172.99 389.0,173.45 391.0,173.97 393.0,174.57 395.0,175.24 397.0,175.95 399.0,176.71 401.0,177.50 403.0,178.37 405.0,179.29 407.0,180.25 409.0,181.22 411.0,182.18 413.0,183.16 415.0,184.16 417.0,185.17 419.0,186.19 421.0,187.21 423.0,188.21 425.0,189.25 427.0,190.40 429.0,191.73 431.0,193.21 433.0,194.73 435.0,196.20 437.0,197.54 439.0,198.88 441.0,200.37 443.0,202.03 445.0,203.70 447.0,205.31 449.0,206.90 451.0,208.50 453.0,210.08 455.0,211.70 457.0,213.37 459.0,215.09 461.0,216.93 463.0,218.88 465.0,221.00 467.0,223.39 469.0,225.98 471.0,228.64 473.0,231.41 475.0,234.20 477.0,236.96 479.0,239.72 481.0,242.47 483.0,245.18 485.0,248.00 487.0,250.99 489.0,254.14 491.0,257.48 493.0,260.98 495.0,265.00 497.0,270.27 499.0,275.49 501.0,280.69 502.0,283.50"/><polyline points="123.0,158.50 125.0,158.53 127.0,158.56 129.0,158.61 131.0,158.67 133.0,158.73 135.0,158.82 137.0,158.92 139.0,159.03 141.0,159.14 143.0,159.26 145.0,159.37 147.0,159.49 149.0,159.62 151.0,159.76 153.0,159.90 155.0,160.06 157.0,160.23 159.0,160.42 161.0,160.61 163.0,160.80 165.0,161.00 167.0,161.20 169.0,161.41 171.0,161.61 173.0,161.80 175.0,161.97 177.0,162.13 179.0,162.30 181.0,162.50 183.0,162.73 185.0,162.97 187.0,163.24 189.0,163.51 191.0,163.79 193.0,164.07 195.0,164.35 197.0,164.61 199.0,164.87 201.0,165.10 203.0,165.32 205.0,165.53 207.0,165.73 209.0,165.93 211.0,166.12 213.0,166.30 215.0,166.47 217.0,166.63 219.0,166.79 221.0,166.95 223.0,167.12 225.0,167.30 227.0,167.50 229.0,167.71 231.0,167.93 233.0,168.16 235.0,168.40 237.0,168.66 239.0,168.92 241.0,169.20 243.0,169.50 245.0,169.82 247.0,170.18 249.0,170.56 251.0,170.96 253.0,171.37 255.0,171.79 257.0,172.21 259.0,172.63 261.0,173.07 263.0,173.51 265.0,173.97 267.0,174.45 269.0,174.96 271.0,175.50 273.0,176.07 275.0,176.64 277.0,177.20 279.0,177.74 281.0,178.26 283.0,178.78 285.0,179.30 287.0,179.84 289.0,180.41 291.0,181.00 293.0,181.64 295.0,182.30 297.0,182.98 299.0,183.66 301.0,184.34 303.0,185.03 305.0,185.72 307.0,186.43 309.0,187.14 311.0,187.86 313.0,188.56 315.0,189.26 317.0,189.99 319.0,190.78 321.0,191.65 323.0,192.62 325.0,193.66 327.0,194.75 329.0,195.85 331.0,196.95 333.0,198.08 335.0,199.23 337.0,200.39 339.0,201.54 341.0,202.66 343.0,203.75 345.0,204.82 347.0,205.90 349.0,206.99 351.0,208.12 353.0,209.29 355.0,210.51 357.0,211.77 359.0,213.05 361.0,214.35 363.0,215.68 365.0,217.10 367.0,218.69 369.0,220.37 371.0,222.00 373.0,223.58 375.0,225.20 377.0,226.85 379.0,228.57 381.0,230.53 383.0,232.79 385.0,235.00 387.0,236.99 389.0,238.88 391.0,240.67 393.0,242.40 395.0,244.26 397.0,246.21 399.0,248.24 401.0,250.40 403.0,252.74 405.0,255.10 407.0,257.38 409.0,259.66 411.0,261.94 413.0,264.23 415.0,266.60 417.0,269.05 419.0,271.63 421.0,274.46 423.0,277.60 425.0,281.00 426.0,283.00"/></g>

</g>
<g fill="#fff" shape-rendering="crispEdges">
<rect x="212" y="239" width="181" height="35"/>
<rect x="430" y="293" width="146" height="38"/>
<rect x="540" y="164" width="170" height="36"/>
</g>
<rect x="125" y="96" width="605" height="316" fill="none" stroke="#000" stroke-width="2" shape-rendering="crispEdges"/>
<text transform="translate(427.4,68.8) scale(1,1.03)" text-anchor="middle" font-size="33.5px" font-weight="bold">Cycle life of NiMH</text>

<text transform="translate(89.5,106.7) scale(1,1.045)" text-anchor="middle">110</text>
<text transform="translate(89.3,168.6) scale(1,1.045)" text-anchor="middle">100</text>
<text transform="translate(88.7,229.7) scale(1,1.045)" text-anchor="middle">90</text>
<text transform="translate(88.7,291.6) scale(1,1.045)" text-anchor="middle">80</text>
<text transform="translate(88.5,352.6) scale(1,1.045)" text-anchor="middle">70</text>
<text transform="translate(88.7,413.8) scale(1,1.045)" text-anchor="middle">60</text>

<text transform="translate(125.5,446.2) scale(1,1.045)" text-anchor="middle">0</text>
<text transform="translate(204.5,446.2) scale(1,1.045)" text-anchor="middle">100</text>
<text transform="translate(277,446.2) scale(1,1.045)" text-anchor="middle">200</text>
<text transform="translate(352.8,446.2) scale(1,1.045)" text-anchor="middle">300</text>
<text transform="translate(428.8,446.2) scale(1,1.045)" text-anchor="middle">400</text>
<text transform="translate(502.4,446.2) scale(1,1.045)" text-anchor="middle">500</text>
<text transform="translate(581,446.2) scale(1,1.045)" text-anchor="middle">600</text>
<text transform="translate(652.3,446.2) scale(1,1.045)" text-anchor="middle">700</text>
<text transform="translate(728.5,446.2) scale(1,1.045)" text-anchor="middle">800</text>

<text transform="translate(311.3,480.6) scale(1,1.03)">Number of Cycles</text>

<text transform="translate(50.8,251.6) rotate(-90) scale(1,1.03)" text-anchor="middle" font-size="23.85px">% of Nominal Capacity</text>
<text transform="translate(223,265.9) scale(1,1.03)" letter-spacing="0.2">-dV=30mV/cell</text>

<text transform="translate(439.5,319.6) scale(1,1.03)">Time=120%</text>

<text transform="translate(551,191) scale(1,1.03)" letter-spacing="0.2">-dV=2mV/cell</text>

</svg>
</body></html>
